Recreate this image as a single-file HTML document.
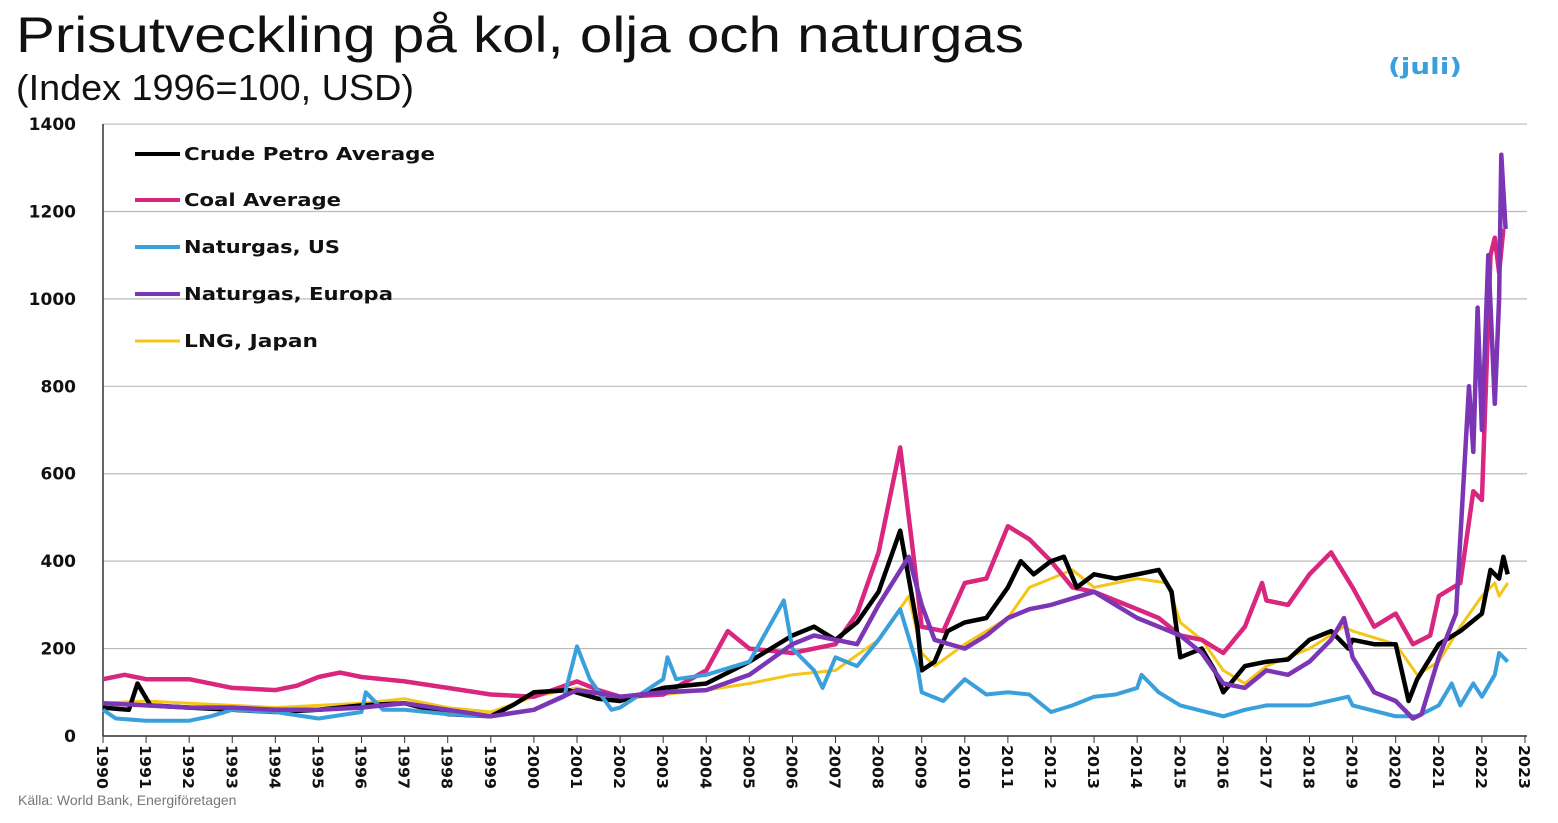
<!DOCTYPE html>
<html><head><meta charset="utf-8"><style>
body{margin:0;background:#fff;width:1558px;height:818px;overflow:hidden;font-family:"Liberation Sans",sans-serif}
</style></head><body>
<svg width="1558" height="818" xmlns="http://www.w3.org/2000/svg">
<text x="16" y="52" font-family="Liberation Sans, sans-serif" font-size="50" fill="#111" textLength="1008" lengthAdjust="spacingAndGlyphs">Prisutveckling på kol, olja och naturgas</text>
<text x="16" y="100" font-family="Liberation Sans, sans-serif" font-size="36" fill="#111" textLength="398" lengthAdjust="spacingAndGlyphs">(Index 1996=100, USD)</text>
<text x="1388" y="74" font-family="DejaVu Sans, sans-serif" font-weight="bold" font-size="22" fill="#3aa0dc" textLength="74" lengthAdjust="spacingAndGlyphs">(juli)</text>
<text x="18" y="805" font-family="Liberation Sans, sans-serif" font-size="14" fill="#777">Källa: World Bank, Energiföretagen</text>
<g id="grid" stroke="#bbb" stroke-width="1.2"></g>
<g id="yl" font-family="DejaVu Sans, sans-serif" font-weight="bold" font-size="17" fill="#111" text-anchor="end"></g>
<g id="xl" font-family="DejaVu Sans, sans-serif" font-weight="bold" font-size="15" fill="#111"></g>
<line x1="103" y1="124" x2="103" y2="736" stroke="#333" stroke-width="1.5"/>
<line x1="103" y1="736" x2="1527" y2="736" stroke="#333" stroke-width="1.5"/>
<g id="series" fill="none" stroke-linejoin="round"></g>
<g font-family="DejaVu Sans, sans-serif" font-weight="bold" font-size="18" fill="#111">
<line x1="135" y1="154" x2="180" y2="154" stroke="#000" stroke-width="4"/><text x="184" y="160" textLength="251" lengthAdjust="spacingAndGlyphs">Crude Petro Average</text>
<line x1="135" y1="200" x2="180" y2="200" stroke="#d9267e" stroke-width="4"/><text x="184" y="206" textLength="157" lengthAdjust="spacingAndGlyphs">Coal Average</text>
<line x1="135" y1="247" x2="180" y2="247" stroke="#3aa0dc" stroke-width="4"/><text x="184" y="253" textLength="156" lengthAdjust="spacingAndGlyphs">Naturgas, US</text>
<line x1="135" y1="294" x2="180" y2="294" stroke="#7b35b5" stroke-width="4"/><text x="184" y="300" textLength="209" lengthAdjust="spacingAndGlyphs">Naturgas, Europa</text>
<line x1="135" y1="341" x2="180" y2="341" stroke="#f5c518" stroke-width="3"/><text x="184" y="347" textLength="134" lengthAdjust="spacingAndGlyphs">LNG, Japan</text>
</g>
</svg>
<script>
const NS="http://www.w3.org/2000/svg";
const X=y=>103+(y-1990)*43.09, Y=v=>736-v*0.4371;
const g=document.getElementById('grid'),yl=document.getElementById('yl'),xl=document.getElementById('xl');
for(let v=0;v<=1400;v+=200){const l=document.createElementNS(NS,'line');l.setAttribute('x1',103);l.setAttribute('x2',1527);l.setAttribute('y1',Y(v));l.setAttribute('y2',Y(v));g.appendChild(l);
const t=document.createElementNS(NS,'text');t.setAttribute('x',76);t.setAttribute('y',Y(v)+6);t.textContent=v;yl.appendChild(t);}
for(let y=1990;y<=2023;y++){const x=X(y);const l=document.createElementNS(NS,'line');l.setAttribute('x1',x);l.setAttribute('x2',x);l.setAttribute('y1',736);l.setAttribute('y2',743);l.setAttribute('stroke','#333');xl.appendChild(l);
const t=document.createElementNS(NS,'text');t.setAttribute('transform',`translate(${x-6},745) rotate(90)`);t.setAttribute('textLength',44);t.setAttribute('lengthAdjust','spacingAndGlyphs');t.textContent=y;xl.appendChild(t);}
function P(a){let s=[];for(let i=0;i<a.length;i+=2)s.push(X(a[i]).toFixed(1)+','+Y(a[i+1]).toFixed(1));return s.join(' ');}
const S=[
["#f5c518",3,[1990,75,1991,80,1992,75,1993,70,1994,65,1995,70,1996,75,1997,85,1998,65,1999,55,2000,90,2001,110,2002,85,2003,95,2004,105,2005,120,2006,140,2007,150,2008,220,2008.7,320,2009,190,2009.3,160,2010,210,2010.5,240,2011,270,2011.5,340,2012,360,2012.5,380,2013,340,2014,360,2014.7,350,2015,260,2015.5,220,2016,150,2016.5,120,2017,160,2018,200,2018.8,250,2019,240,2020,210,2020.5,140,2021,170,2021.5,250,2022,320,2022.3,350,2022.4,320,2022.6,350]],
["#d9267e",4.5,[1990,130,1990.5,140,1991,130,1992,130,1993,110,1994,105,1994.5,115,1995,135,1995.5,145,1996,135,1997,125,1998,110,1999,95,2000,90,2001,125,2001.5,105,2002,90,2003,95,2004,150,2004.5,240,2005,200,2006,190,2007,210,2007.5,280,2008,420,2008.5,660,2008.8,420,2009,250,2009.5,240,2010,350,2010.5,360,2011,480,2011.5,450,2012,400,2012.5,340,2013,330,2013.5,310,2014,290,2014.5,270,2015,230,2015.5,220,2016,190,2016.5,250,2016.9,350,2017,310,2017.5,300,2018,370,2018.5,420,2019,340,2019.5,250,2020,280,2020.4,210,2020.8,230,2021,320,2021.5,350,2021.8,560,2022,540,2022.2,1100,2022.3,1140,2022.4,1060,2022.5,1160]],
["#000",4.5,[1990,65,1990.6,60,1990.8,120,1991.1,70,1992,65,1993,60,1994,55,1995,60,1996,70,1997,75,1998,50,1999,45,1999.5,70,2000,100,2000.8,105,2001.5,85,2002,80,2003,110,2004,120,2005,170,2006,230,2006.5,250,2007,220,2007.5,260,2008,330,2008.5,470,2008.9,250,2009,150,2009.3,170,2009.6,240,2010,260,2010.5,270,2011,340,2011.3,400,2011.6,370,2012,400,2012.3,410,2012.6,340,2013,370,2013.5,360,2014,370,2014.5,380,2014.8,330,2015,180,2015.5,200,2015.8,150,2016,100,2016.5,160,2017,170,2017.5,175,2018,220,2018.5,240,2018.9,200,2019,220,2019.5,210,2020,210,2020.3,80,2020.5,130,2021,210,2021.5,240,2022,280,2022.2,380,2022.4,360,2022.5,410,2022.6,370]],
["#3aa0dc",4,[1990,60,1990.3,40,1991,35,1992,35,1992.5,45,1993,60,1994,55,1995,40,1996,55,1996.1,100,1996.5,60,1997,60,1998,50,1999,45,2000,60,2000.7,90,2001,205,2001.3,130,2001.8,60,2002,65,2003,130,2003.1,180,2003.3,130,2004,140,2005,170,2005.8,310,2006,200,2006.5,150,2006.7,110,2007,180,2007.5,160,2008,220,2008.5,290,2008.9,160,2009,100,2009.5,80,2010,130,2010.5,95,2011,100,2011.5,95,2012,55,2012.5,70,2013,90,2013.5,95,2014,110,2014.1,140,2014.5,100,2015,70,2016,45,2016.5,60,2017,70,2018,70,2018.9,90,2019,70,2020,45,2020.5,45,2021,70,2021.3,120,2021.5,70,2021.8,120,2022,90,2022.3,140,2022.4,190,2022.6,170]],
["#7b35b5",4.5,[1990,75,1991,70,1992,65,1993,65,1994,60,1995,60,1996,65,1997,75,1998,60,1999,45,2000,60,2001,105,2002,90,2003,100,2004,105,2005,140,2006,210,2006.5,230,2007,220,2007.5,210,2008,300,2008.7,410,2009,300,2009.3,220,2010,200,2010.5,230,2011,270,2011.5,290,2012,300,2013,330,2013.5,300,2014,270,2014.5,250,2015,230,2015.5,190,2016,120,2016.5,110,2017,150,2017.5,140,2018,170,2018.5,220,2018.8,270,2019,180,2019.5,100,2020,80,2020.4,40,2020.6,50,2021,180,2021.4,280,2021.7,800,2021.8,650,2021.9,980,2022,700,2022.15,1100,2022.3,760,2022.4,1000,2022.45,1330,2022.55,1160]]];
const sg=document.getElementById('series');
for(const [c,w,d] of S){const p=document.createElementNS(NS,'polyline');p.setAttribute('points',P(d));p.setAttribute('stroke',c);p.setAttribute('stroke-width',w);sg.appendChild(p);}
</script>
</body></html>
